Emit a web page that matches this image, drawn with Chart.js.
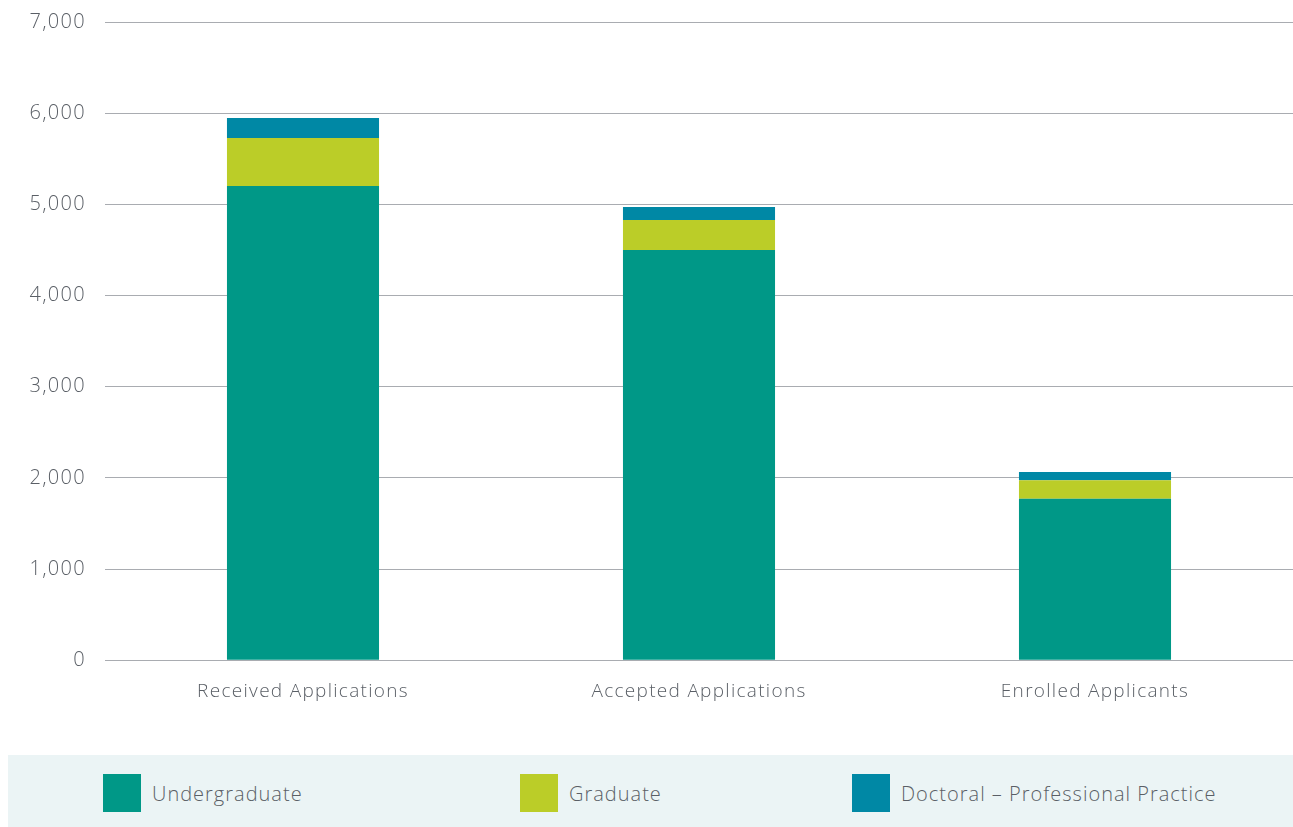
<!DOCTYPE html>
<html>
<head>
<meta charset="utf-8">
<script src="https://cdn.jsdelivr.net/npm/chart.js@4"></script>
<style>
    body { margin: 0; background: #fff; font-family: "Open Sans", sans-serif; }
    #wrap { position: relative; width: 1293px; height: 827px; overflow: hidden; }
    #chartBox { position: absolute; left: 0; top: -9px; width: 1293px; height: 735px; }
    #legend { position: absolute; left: 8px; top: 755px; width: 1285px; height: 72px; background: #ebf4f5; }
    .item { position: absolute; top: 19px; height: 38px; display: flex; align-items: center; color: #5a5f66; font-size: 20px; font-weight: 300; letter-spacing: 1px; }
    .item span.box { display: inline-block; width: 38px; height: 38px; margin-right: 11px; }
</style>
</head>
<body>
<div id="wrap">
    <div id="chartBox"><canvas id="chart"></canvas></div>
    <div id="legend"></div>
</div>
<script>
const categories = ["Received Applications", "Accepted Applications", "Enrolled Applicants"];
const undergraduate = [5200, 4500, 1770];
const graduate = [527, 328, 205];
const doctoral = [220, 142, 88];
const yTicks = [0, 1000, 2000, 3000, 4000, 5000, 6000, 7000];

const seriesNames = ["Undergraduate", "Graduate", "Doctoral – Professional Practice"];
const seriesColors = ["#009887", "#bbcd28", "#0088a5"];
const textColor = "#5a5f66";
const fontName = "Open Sans";

const datasets = [undergraduate, graduate, doctoral].map((vals, i) => ({
    label: seriesNames[i],
    data: vals,
    backgroundColor: seriesColors[i],
    borderWidth: 0,
    categoryPercentage: 1,
    barPercentage: 0.384
}));

// the original font is wider, so spread the letters a little
const spacing = {
    id: "spacing",
    beforeLayout: (chart) => { chart.ctx.letterSpacing = "1.3px"; },
    beforeDraw: (chart) => { chart.ctx.letterSpacing = "1.3px"; }
};

new Chart(document.getElementById("chart"), {
    type: "bar",
    data: { labels: categories, datasets: datasets },
    plugins: [spacing],
    options: {
        responsive: true,
        maintainAspectRatio: false,
        animation: false,
        layout: { padding: { top: 3, right: 0, bottom: 3, left: 0 } },
        plugins: { legend: { display: false }, tooltip: { enabled: false } },
        scales: {
            x: {
                stacked: true,
                grid: { display: false, drawTicks: false },
                border: { display: true, color: "#a9acb1", width: 1 },
                ticks: { color: textColor, padding: 20, font: { family: fontName, size: 19, weight: 300 } }
            },
            y: {
                stacked: true,
                min: 0,
                max: 7000,
                afterBuildTicks: (axis) => { axis.ticks = yTicks.map(v => ({ value: v })); },
                afterFit: (axis) => { axis.width = 105; },
                grid: { color: "#a9acb1", drawTicks: false },
                border: { display: false },
                ticks: {
                    color: textColor,
                    padding: 19,
                    font: { family: fontName, size: 20, weight: 300 },
                    callback: (v) => v.toLocaleString("en-US")
                }
            }
        }
    }
});

// legend strip under the chart
const legendPos = [95, 512, 844];
const legend = document.getElementById("legend");
seriesNames.forEach((name, i) => {
    const el = document.createElement("div");
    el.className = "item";
    el.style.left = legendPos[i] + "px";
    el.innerHTML = '<span class="box" style="background:' + seriesColors[i] + '"></span>' + name;
    legend.appendChild(el);
});
</script>
</body>
</html>
